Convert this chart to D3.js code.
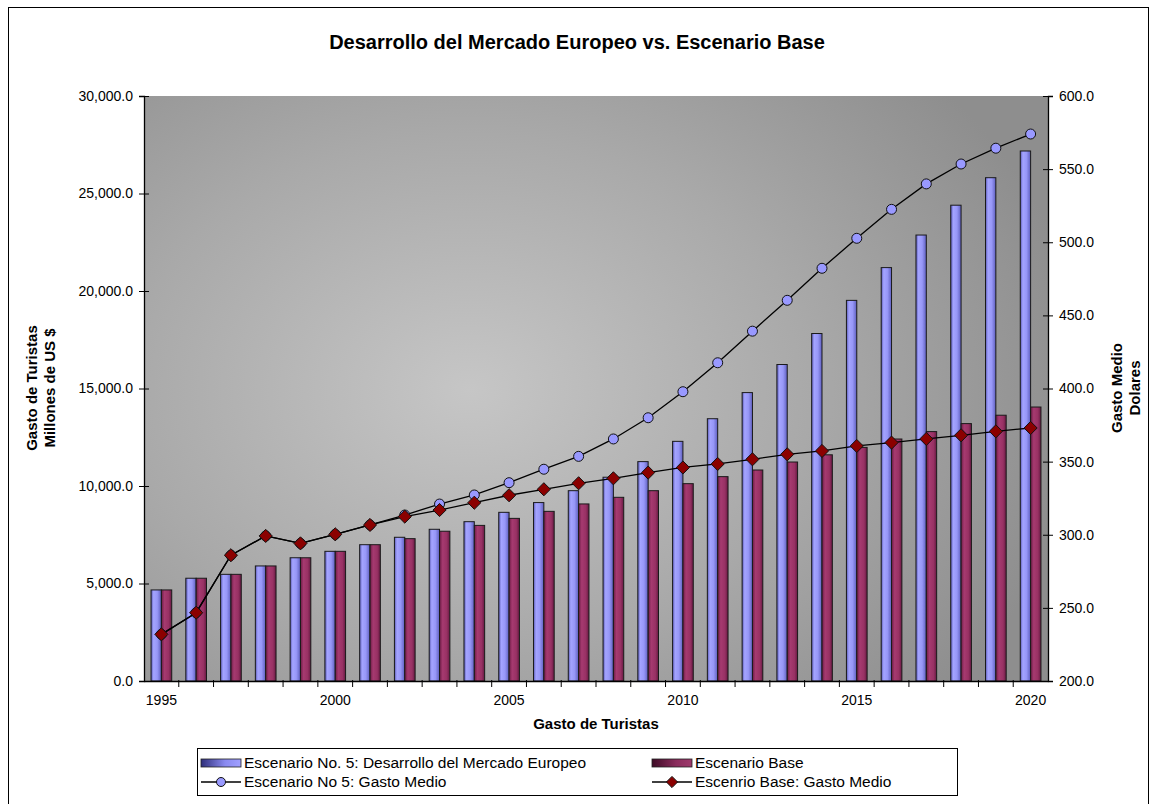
<!DOCTYPE html>
<html>
<head>
<meta charset="utf-8">
<script src="https://cdn.jsdelivr.net/npm/d3@7"></script>
<style>
  html, body { margin: 0; padding: 0; background: #fff; }
  svg { display: block; font-family: "Liberation Sans", Arial, sans-serif; }
</style>
</head>
<body>
<svg id="chart" width="1154" height="804"></svg>
<script>
// Years on the category axis
const years = d3.range(1995, 2021);

// Tourist spending, millions of US $ (left axis)
const escenario5Gasto = [4670, 5270, 5470, 5900, 6320, 6650, 6990, 7370, 7780, 8170,
  8650, 9150, 9760, 10450, 11250, 12290, 13450, 14790, 16230, 17820,
  19520, 21200, 22870, 24400, 25810, 27180];
const baseGasto = [4670, 5270, 5470, 5900, 6320, 6650, 6990, 7300, 7680, 7980,
  8340, 8700, 9080, 9420, 9760, 10120, 10480, 10820, 11230, 11600,
  11980, 12410, 12790, 13200, 13630, 14050];

// Average spending, dollars (right axis)
const escenario5Medio = [231.9, 246.7, 286.0, 299.2, 294.1, 300.3, 306.7, 313.5, 321.0, 327.2,
  335.6, 344.8, 353.6, 365.5, 380.0, 397.8, 417.6, 439.2, 460.3, 482.2,
  502.7, 522.5, 539.9, 553.5, 564.3, 574.0];
const baseMedio = [231.9, 246.7, 286.0, 299.2, 294.1, 300.3, 306.7, 312.4, 316.9, 321.9,
  327.0, 331.1, 335.2, 338.6, 342.5, 346.0, 348.4, 351.6, 355.0, 357.3,
  360.7, 363.0, 365.5, 368.0, 370.7, 373.0];

const leftTicks = [0, 5000, 10000, 15000, 20000, 25000, 30000];
const rightTicks = [200, 250, 300, 350, 400, 450, 500, 550, 600];
const yearLabels = [1995, 2000, 2005, 2010, 2015, 2020];

const titleText = "Desarrollo del Mercado Europeo vs. Escenario Base";
const legendLabels = [
  "Escenario No. 5: Desarrollo del Mercado Europeo",
  "Escenario Base",
  "Escenario No 5: Gasto Medio",
  "Escenrio Base: Gasto Medio"
];

const svg = d3.select("#chart");
const plot = { left: 144, right: 1048, top: 96, bottom: 681 };

// Gradients
const defs = svg.append("defs");
const bg = defs.append("radialGradient").attr("id", "bgGrad")
  .attr("gradientUnits", "userSpaceOnUse")
  .attr("cx", 470).attr("cy", 390).attr("r", 620)
  .attr("gradientTransform", "translate(470,390) scale(1,0.75) translate(-470,-390)");
bg.append("stop").attr("offset", "0").attr("stop-color", "#c6c6c6");
bg.append("stop").attr("offset", "0.55").attr("stop-color", "#a9a9a9");
bg.append("stop").attr("offset", "1").attr("stop-color", "#8e8e8e");

function hGrad(id, stops) {
  const g = defs.append("linearGradient").attr("id", id)
    .attr("x1", "0").attr("x2", "1").attr("y1", "0").attr("y2", "0");
  stops.forEach(s => g.append("stop").attr("offset", s[0]).attr("stop-color", s[1]));
}
hGrad("blueBar", [[0, "#5a5ab4"], [0.25, "#a4a4ff"], [0.6, "#9797f7"], [1, "#5e5ebe"]]);
hGrad("maroonBar", [[0, "#6c1c45"], [0.3, "#a63a70"], [0.7, "#983164"], [1, "#661a42"]]);
hGrad("blueSwatch", [[0, "#2e2e7a"], [0.6, "#8a8af0"], [1, "#a0a0ff"]]);
hGrad("maroonSwatch", [[0, "#3e0c26"], [0.6, "#8a2c5c"], [1, "#9e3a6c"]]);

// Outer frame
svg.append("rect").attr("x", 8.5).attr("y", 7.5).attr("width", 1140).attr("height", 820)
  .attr("fill", "#fff").attr("stroke", "#000").attr("stroke-width", 1);

// Title
svg.append("text").attr("x", 577).attr("y", 49).attr("text-anchor", "middle")
  .attr("font-size", 20).attr("font-weight", "bold").text(titleText);

// Scales
const x = d3.scaleBand().domain(years).range([plot.left, plot.right]).padding(0);
const sub = d3.scaleBand().domain(["s5", "base"]).range([0, x.bandwidth()])
  .paddingInner(0).paddingOuter(0.68);
const yL = d3.scaleLinear().domain([0, 30000]).range([plot.bottom, plot.top]);
const yR = d3.scaleLinear().domain([200, 600]).range([plot.bottom, plot.top]);

// Plot area background
svg.append("rect").attr("x", plot.left).attr("y", plot.top)
  .attr("width", plot.right - plot.left).attr("height", plot.bottom - plot.top)
  .attr("fill", "url(#bgGrad)");

// Bars
const barData = years.map((yr, i) => ({ yr, s5: escenario5Gasto[i], base: baseGasto[i] }));
const groups = svg.append("g").selectAll("g").data(barData).join("g")
  .attr("transform", d => `translate(${x(d.yr)},0)`);
groups.append("rect")
  .attr("x", sub("s5")).attr("width", sub.bandwidth())
  .attr("y", d => yL(d.s5)).attr("height", d => yL(0) - yL(d.s5))
  .attr("fill", "url(#blueBar)").attr("stroke", "#1a1a1a").attr("stroke-width", 1);
groups.append("rect")
  .attr("x", sub("base")).attr("width", sub.bandwidth())
  .attr("y", d => yL(d.base)).attr("height", d => yL(0) - yL(d.base))
  .attr("fill", "url(#maroonBar)").attr("stroke", "#1a1a1a").attr("stroke-width", 1);

// Lines
const cx = yr => x(yr) + x.bandwidth() / 2;
const line = d3.line().x(d => cx(d.yr)).y(d => yR(d.v));
const s5Pts = years.map((yr, i) => ({ yr, v: escenario5Medio[i] }));
const basePts = years.map((yr, i) => ({ yr, v: baseMedio[i] }));

svg.append("path").datum(s5Pts).attr("d", line)
  .attr("fill", "none").attr("stroke", "#000").attr("stroke-width", 1.3);
svg.append("g").selectAll("circle").data(s5Pts).join("circle")
  .attr("cx", d => cx(d.yr)).attr("cy", d => yR(d.v)).attr("r", 5)
  .attr("fill", "#9999ff").attr("stroke", "#111").attr("stroke-width", 1);

svg.append("path").datum(basePts).attr("d", line)
  .attr("fill", "none").attr("stroke", "#000").attr("stroke-width", 1.3);
const diamond = d3.symbol().type(d3.symbolDiamond2).size(110);
svg.append("g").selectAll("path").data(basePts).join("path")
  .attr("transform", d => `translate(${cx(d.yr)},${yR(d.v)})`)
  .attr("d", diamond)
  .attr("fill", "#8b0000").attr("stroke", "#111").attr("stroke-width", 1);

// Axes
const fmt = d3.format(",.1f");
const leftAxis = svg.append("g").attr("transform", `translate(${plot.left},0)`)
  .call(d3.axisLeft(yL).tickValues(leftTicks).tickFormat(fmt).tickSize(5).tickPadding(6));
const rightAxis = svg.append("g").attr("transform", `translate(${plot.right},0)`)
  .call(d3.axisRight(yR).tickValues(rightTicks).tickFormat(fmt).tickSize(5).tickPadding(6));
[leftAxis, rightAxis].forEach((a, k) => {
  a.select(".domain").attr("stroke", "#000").attr("stroke-width", 1.3);
  a.selectAll(".tick line").attr("x1", k === 0 ? 5 : -5).attr("stroke", "#000");
  a.selectAll(".tick text").attr("font-size", 14).attr("fill", "#000")
    .attr("font-family", "'Liberation Sans', Arial, sans-serif");
});

const bottomAxis = svg.append("g").attr("transform", `translate(0,${plot.bottom})`)
  .call(d3.axisBottom(x).tickValues(yearLabels).tickSize(0).tickPadding(14));
bottomAxis.select(".domain").attr("stroke", "#000").attr("stroke-width", 1.3);
bottomAxis.selectAll(".tick text").attr("font-size", 14).attr("fill", "#000")
  .attr("font-family", "'Liberation Sans', Arial, sans-serif");
// Category separators below the axis
svg.append("g").selectAll("line").data(years.slice(1)).join("line")
  .attr("x1", d => x(d)).attr("x2", d => x(d))
  .attr("y1", plot.bottom - 1).attr("y2", plot.bottom + 6)
  .attr("stroke", "#000").attr("stroke-width", 1);

// Axis titles
svg.append("text").attr("x", 596).attr("y", 729).attr("text-anchor", "middle")
  .attr("font-size", 15).attr("font-weight", "bold").text("Gasto de Turistas");

const lt = svg.append("text").attr("transform", "translate(37,388) rotate(-90)")
  .attr("text-anchor", "middle").attr("font-size", 15).attr("font-weight", "bold");
lt.append("tspan").attr("x", 0).attr("dy", 0).text("Gasto de Turistas");
lt.append("tspan").attr("x", 0).attr("dy", 18).text("Millones de US $");

const rt = svg.append("text").attr("transform", "translate(1122,388) rotate(-90)")
  .attr("text-anchor", "middle").attr("font-size", 15).attr("font-weight", "bold");
rt.append("tspan").attr("x", 0).attr("dy", 0).text("Gasto Medio");
rt.append("tspan").attr("x", 0).attr("dy", 18).text("Dolares");

// Legend
const lg = svg.append("g");
lg.append("rect").attr("x", 197.5).attr("y", 748.5).attr("width", 760).attr("height", 47)
  .attr("fill", "#fff").attr("stroke", "#000").attr("stroke-width", 1);
const legendItems = [
  { type: "bar", fill: "url(#blueSwatch)", x: 201, y: 763, label: legendLabels[0] },
  { type: "bar", fill: "url(#maroonSwatch)", x: 652, y: 763, label: legendLabels[1] },
  { type: "circle", x: 201, y: 782, label: legendLabels[2] },
  { type: "diamond", x: 652, y: 782, label: legendLabels[3] }
];
legendItems.forEach(it => {
  const g = lg.append("g");
  if (it.type === "bar") {
    g.append("rect").attr("x", it.x).attr("y", it.y - 4).attr("width", 40).attr("height", 8)
      .attr("fill", it.fill).attr("stroke", "#222").attr("stroke-width", 0.8);
  } else {
    g.append("line").attr("x1", it.x).attr("x2", it.x + 40).attr("y1", it.y).attr("y2", it.y)
      .attr("stroke", "#000").attr("stroke-width", 1.3);
    if (it.type === "circle") {
      g.append("circle").attr("cx", it.x + 20).attr("cy", it.y).attr("r", 4.5)
        .attr("fill", "#9999ff").attr("stroke", "#111");
    } else {
      g.append("path").attr("transform", `translate(${it.x + 20},${it.y})`)
        .attr("d", d3.symbol().type(d3.symbolDiamond2).size(80))
        .attr("fill", "#8b0000").attr("stroke", "#111");
    }
  }
  g.append("text").attr("x", it.x + 43).attr("y", it.y + 5).attr("font-size", 15.5)
    .text(it.label);
});
</script>
</body>
</html>
